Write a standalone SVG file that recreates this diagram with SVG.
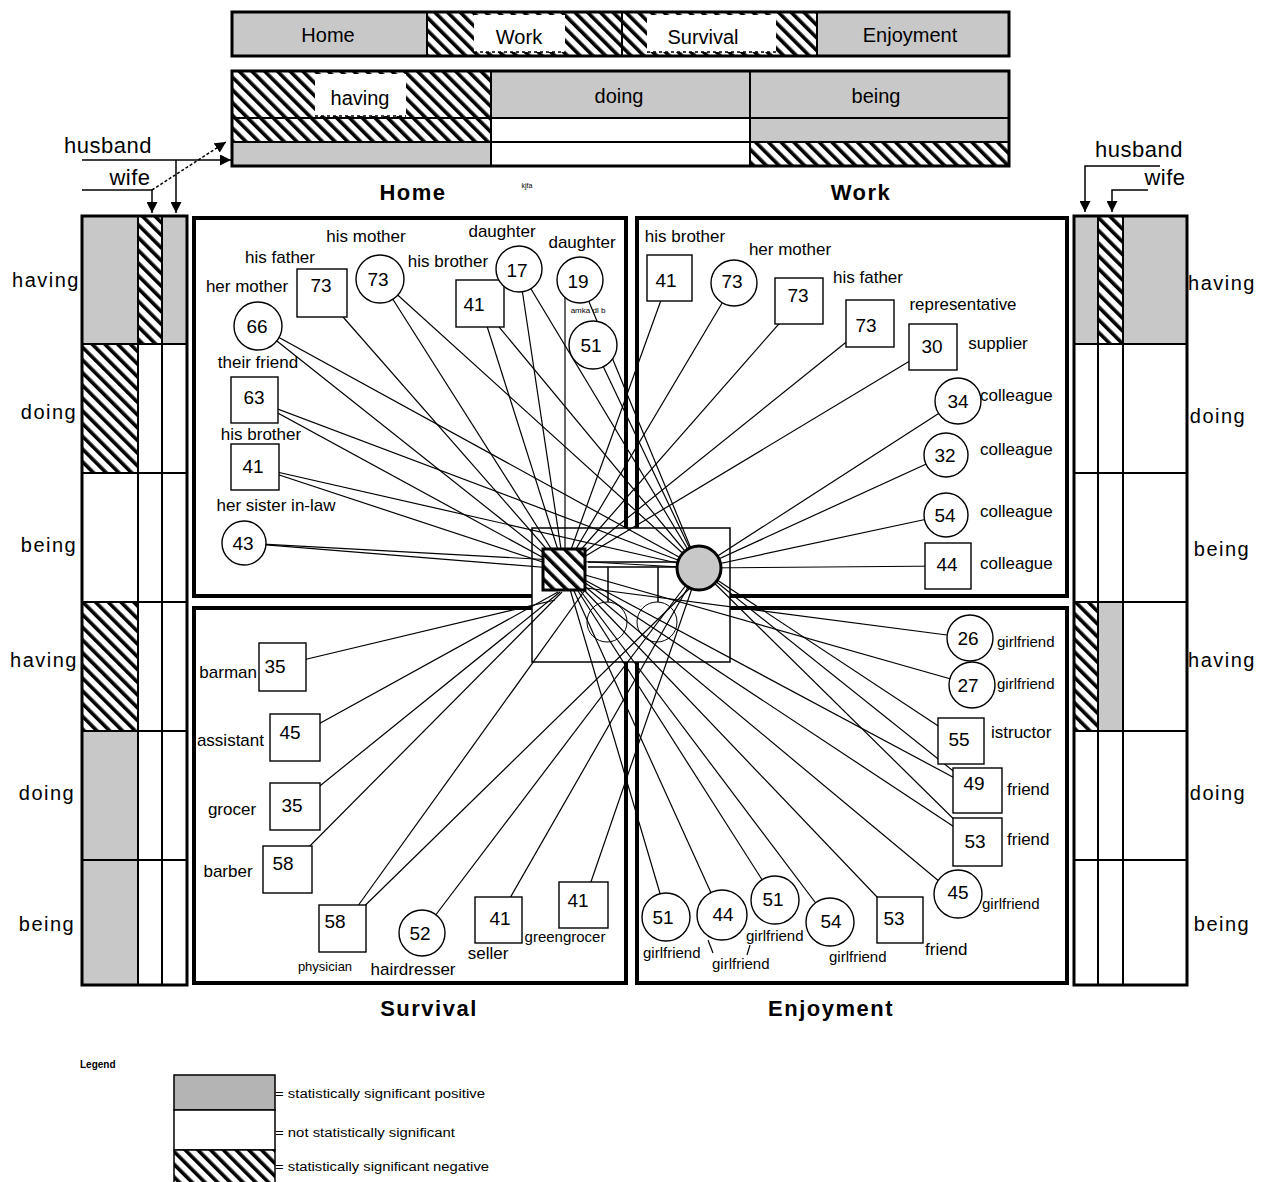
<svg xmlns="http://www.w3.org/2000/svg" width="1271" height="1182" viewBox="0 0 1271 1182">
<style>
text{font-family:"Liberation Sans",Arial,sans-serif;fill:#000}
.l{font-size:17px;text-anchor:middle}
.ls{font-size:17px;text-anchor:start}
.le{font-size:17px;text-anchor:end}
.g{font-size:15px;text-anchor:start}
.n{font-size:19px;text-anchor:middle}
.tb{font-size:20px;text-anchor:middle}
.side{font-size:20px;text-anchor:middle;letter-spacing:1.5px}
.hd{font-size:22px;font-weight:bold;text-anchor:middle;letter-spacing:1.5px}
.hw{font-size:22px;text-anchor:middle;letter-spacing:0.5px}
.leg{font-size:12px;text-anchor:start}
.node{fill:#fff;stroke:#000;stroke-width:1.4}
.gray{fill:#c8c8c8}
.hat{fill:url(#hatch)}
.wh{fill:#fff}
.cell{stroke:#000;stroke-width:2}
.out{fill:none;stroke:#000;stroke-width:3}
.quad{fill:#fff;stroke:#000;stroke-width:4}
#connectors line{stroke:#000;stroke-width:1.2}
.ar{stroke:#000;stroke-width:1.5;fill:none}
</style>
<defs>
<pattern id="hatch" patternUnits="userSpaceOnUse" width="9" height="9" patternTransform="rotate(-45)">
<rect width="9" height="9" fill="#fff"/>
<rect width="3.6" height="9" fill="#000"/>
</pattern>
<marker id="arr" viewBox="0 0 10 10" refX="10" refY="5" markerWidth="11" markerHeight="11" orient="auto" markerUnits="userSpaceOnUse">
<path d="M0,0 L10,5 L0,10 z" fill="#000"/>
</marker>
</defs>
<rect width="1271" height="1182" fill="#fff"/>

<!-- top bar -->
<g id="top-bar">
<rect class="gray cell" x="232" y="12" width="195" height="44"/>
<rect class="hat cell" x="427" y="12" width="195" height="44"/>
<rect class="hat cell" x="622" y="12" width="195" height="44"/>
<rect class="gray cell" x="817" y="12" width="192" height="44"/>
<rect class="wh" x="474" y="15" width="91" height="37"/>
<line x1="474" y1="52" x2="565" y2="52" stroke="#000" stroke-width="1.5" stroke-dasharray="3,3"/>
<rect class="wh" x="647" y="15" width="129" height="37"/>
<line x1="647" y1="52" x2="776" y2="52" stroke="#000" stroke-width="1.5" stroke-dasharray="3,3"/>
<rect class="out" x="232" y="12" width="777" height="44"/>
<text class="tb" x="328" y="42">Home</text>
<text class="tb" x="519" y="44">Work</text>
<text class="tb" x="703" y="44">Survival</text>
<text class="tb" x="910" y="42">Enjoyment</text>
</g>

<!-- second table -->
<g id="hdb-table">
<rect class="hat cell" x="232" y="71" width="259" height="47"/>
<rect class="wh" x="315" y="74" width="91" height="42"/>
<line x1="315" y1="116" x2="406" y2="116" stroke="#000" stroke-width="1.5" stroke-dasharray="3,3"/>
<rect class="gray cell" x="491" y="71" width="259" height="47"/>
<rect class="gray cell" x="750" y="71" width="259" height="47"/>
<rect class="hat cell" x="232" y="118" width="259" height="24"/>
<rect class="wh cell" x="491" y="118" width="259" height="24"/>
<rect class="gray cell" x="750" y="118" width="259" height="24"/>
<rect class="gray cell" x="232" y="142" width="259" height="24"/>
<rect class="wh cell" x="491" y="142" width="259" height="24"/>
<rect class="hat cell" x="750" y="142" width="259" height="24"/>
<rect class="out" x="232" y="71" width="777" height="95"/>
<text class="tb" x="360" y="105">having</text>
<text class="tb" x="619" y="103">doing</text>
<text class="tb" x="876" y="103">being</text>
</g>

<!-- husband / wife keys -->
<g id="key-left">
<text class="hw" x="108" y="153">husband</text>
<text class="hw" x="130" y="185">wife</text>
<line class="ar" x1="82" y1="160" x2="231" y2="160" marker-end="url(#arr)"/>
<line class="ar" x1="82" y1="190" x2="152" y2="190"/>
<line class="ar" x1="176" y1="160" x2="176" y2="213" marker-end="url(#arr)"/>
<line class="ar" x1="152" y1="190" x2="152" y2="213" marker-end="url(#arr)"/>
<line class="ar" x1="152" y1="190" x2="226" y2="142" stroke-dasharray="3,2" marker-end="url(#arr)"/>
</g>
<g id="key-right">
<text class="hw" x="1139" y="157">husband</text>
<text class="hw" x="1165" y="185">wife</text>
<path class="ar" d="M1160,166 H1085 V212" marker-end="url(#arr)"/>
<path class="ar" d="M1148,190 H1112 V212" marker-end="url(#arr)"/>
</g>

<!-- left column -->
<g id="col-left">
<rect class="gray cell" x="82" y="216" width="56" height="128"/>
<rect class="hat cell" x="138" y="216" width="24" height="128"/>
<rect class="gray cell" x="162" y="216" width="25" height="128"/>
<rect class="hat cell" x="82" y="344" width="56" height="129"/>
<rect class="wh cell" x="138" y="344" width="24" height="129"/>
<rect class="wh cell" x="162" y="344" width="25" height="129"/>
<rect class="wh cell" x="82" y="473" width="56" height="129"/>
<rect class="wh cell" x="138" y="473" width="24" height="129"/>
<rect class="wh cell" x="162" y="473" width="25" height="129"/>
<rect class="hat cell" x="82" y="602" width="56" height="129"/>
<rect class="wh cell" x="138" y="602" width="24" height="129"/>
<rect class="wh cell" x="162" y="602" width="25" height="129"/>
<rect class="gray cell" x="82" y="731" width="56" height="129"/>
<rect class="wh cell" x="138" y="731" width="24" height="129"/>
<rect class="wh cell" x="162" y="731" width="25" height="129"/>
<rect class="gray cell" x="82" y="860" width="56" height="125"/>
<rect class="wh cell" x="138" y="860" width="24" height="125"/>
<rect class="wh cell" x="162" y="860" width="25" height="125"/>
<rect class="out" x="82" y="216" width="105" height="769"/>
<text class="side" x="46" y="287">having</text>
<text class="side" x="49" y="419">doing</text>
<text class="side" x="49" y="552">being</text>
<text class="side" x="44" y="667">having</text>
<text class="side" x="47" y="800">doing</text>
<text class="side" x="47" y="931">being</text>
</g>

<!-- right column -->
<g id="col-right">
<rect class="gray cell" x="1074" y="216" width="24" height="128"/>
<rect class="hat cell" x="1098" y="216" width="25" height="128"/>
<rect class="gray cell" x="1123" y="216" width="64" height="128"/>
<rect class="wh cell" x="1074" y="344" width="24" height="129"/>
<rect class="wh cell" x="1098" y="344" width="25" height="129"/>
<rect class="wh cell" x="1123" y="344" width="64" height="129"/>
<rect class="wh cell" x="1074" y="473" width="24" height="129"/>
<rect class="wh cell" x="1098" y="473" width="25" height="129"/>
<rect class="wh cell" x="1123" y="473" width="64" height="129"/>
<rect class="hat cell" x="1074" y="602" width="24" height="129"/>
<rect class="gray cell" x="1098" y="602" width="25" height="129"/>
<rect class="wh cell" x="1123" y="602" width="64" height="129"/>
<rect class="wh cell" x="1074" y="731" width="24" height="129"/>
<rect class="wh cell" x="1098" y="731" width="25" height="129"/>
<rect class="wh cell" x="1123" y="731" width="64" height="129"/>
<rect class="wh cell" x="1074" y="860" width="24" height="125"/>
<rect class="wh cell" x="1098" y="860" width="25" height="125"/>
<rect class="wh cell" x="1123" y="860" width="64" height="125"/>
<rect class="out" x="1074" y="216" width="113" height="769"/>
<text class="side" x="1222" y="290">having</text>
<text class="side" x="1218" y="423">doing</text>
<text class="side" x="1222" y="556">being</text>
<text class="side" x="1222" y="667">having</text>
<text class="side" x="1218" y="800">doing</text>
<text class="side" x="1222" y="931">being</text>
</g>

<!-- quadrants -->
<g id="quadrants">
<rect class="quad" x="194" y="218" width="432" height="378"/>
<rect class="quad" x="637" y="218" width="430" height="378"/>
<rect class="quad" x="194" y="608" width="432" height="375"/>
<rect class="quad" x="637" y="608" width="430" height="375"/>
<rect x="532" y="528" width="198" height="134" fill="#fff" stroke="#000" stroke-width="1.5"/>
<text class="hd" x="413" y="200">Home</text>
<text x="527" y="188" font-size="7" text-anchor="middle">kjfa</text>
<text class="hd" x="861" y="200">Work</text>
<text class="hd" x="429" y="1016">Survival</text>
<text class="hd" x="831" y="1016">Enjoyment</text>
</g>

<!-- connectors -->
<g id="connectors">
<line x1="258" y1="326" x2="564" y2="569"/>
<line x1="258" y1="326" x2="699" y2="568"/>
<line x1="322" y1="293" x2="564" y2="569"/>
<line x1="380" y1="279" x2="564" y2="569"/>
<line x1="380" y1="279" x2="699" y2="568"/>
<line x1="480" y1="304" x2="564" y2="569"/>
<line x1="480" y1="304" x2="699" y2="568"/>
<line x1="519" y1="269" x2="564" y2="569"/>
<line x1="519" y1="269" x2="699" y2="568"/>
<line x1="565" y1="290" x2="565" y2="569"/>
<line x1="580" y1="280" x2="699" y2="568"/>
<line x1="593" y1="345" x2="699" y2="568"/>
<line x1="254" y1="400" x2="564" y2="569"/>
<line x1="254" y1="400" x2="699" y2="568"/>
<line x1="255" y1="467" x2="564" y2="569"/>
<line x1="255" y1="467" x2="699" y2="568"/>
<line x1="244" y1="543" x2="564" y2="569"/>
<line x1="244" y1="543" x2="699" y2="568"/>
<line x1="669" y1="278" x2="564" y2="569"/>
<line x1="734" y1="283" x2="564" y2="569"/>
<line x1="799" y1="301" x2="564" y2="569"/>
<line x1="870" y1="323" x2="564" y2="569"/>
<line x1="933" y1="347" x2="564" y2="569"/>
<line x1="958" y1="401" x2="699" y2="568"/>
<line x1="946" y1="455" x2="699" y2="568"/>
<line x1="946" y1="515" x2="699" y2="568"/>
<line x1="948" y1="566" x2="699" y2="568"/>
<line x1="282" y1="665" x2="555" y2="600"/>
<line x1="295" y1="737" x2="558" y2="592"/>
<line x1="295" y1="806" x2="560" y2="592"/>
<line x1="287" y1="869" x2="562" y2="592"/>
<line x1="342" y1="928" x2="585" y2="590"/>
<line x1="342" y1="928" x2="690" y2="588"/>
<line x1="422" y1="933" x2="699" y2="568"/>
<line x1="498" y1="919" x2="699" y2="568"/>
<line x1="583" y1="905" x2="699" y2="568"/>
<line x1="970" y1="638" x2="586" y2="588"/>
<line x1="972" y1="685" x2="564" y2="569"/>
<line x1="961" y1="741" x2="699" y2="568"/>
<line x1="977" y1="790" x2="564" y2="569"/>
<line x1="977" y1="790" x2="699" y2="568"/>
<line x1="977" y1="842" x2="564" y2="569"/>
<line x1="977" y1="842" x2="699" y2="568"/>
<line x1="958" y1="897" x2="564" y2="569"/>
<line x1="899" y1="920" x2="564" y2="569"/>
<line x1="667" y1="917" x2="564" y2="569"/>
<line x1="722" y1="917" x2="564" y2="569"/>
<line x1="775" y1="900" x2="564" y2="569"/>
<line x1="830" y1="922" x2="564" y2="569"/>
<line x1="708" y1="940" x2="713" y2="953"/>
<line x1="750" y1="945" x2="747" y2="955"/>
</g>

<!-- center: husband and wife -->
<g id="center-link">
<line x1="588" y1="562" x2="677" y2="562" stroke="#000" stroke-width="1.5"/>
<line x1="588" y1="567" x2="677" y2="567" stroke="#000" stroke-width="1.5"/>
<line x1="608" y1="567" x2="608" y2="602" stroke="#000" stroke-width="1.5"/>
<line x1="658" y1="567" x2="658" y2="602" stroke="#000" stroke-width="1.5"/>
<circle cx="607" cy="622" r="20" fill="none" stroke="#000" stroke-width="1"/>
<circle cx="657" cy="622" r="20" fill="none" stroke="#000" stroke-width="1"/>
</g>
<g id="husband"><rect x="543" y="549" width="42" height="41" fill="url(#hatch)" stroke="#000" stroke-width="3"/></g>
<g id="wife"><circle cx="699" cy="568" r="22" fill="#c8c8c8" stroke="#000" stroke-width="3"/></g>

<!-- Home nodes -->
<g id="h-his-father"><rect class="node" x="297" y="269" width="50" height="48"/><text class="n" x="321" y="292">73</text><text class="l" x="280" y="263">his father</text></g>
<g id="h-his-mother"><circle class="node" cx="380" cy="279" r="24"/><text class="n" x="378" y="286">73</text><text class="l" x="366" y="242">his mother</text></g>
<g id="h-her-mother"><circle class="node" cx="258" cy="326" r="24"/><text class="n" x="257" y="333">66</text><text class="l" x="247" y="292">her mother</text></g>
<g id="h-his-brother"><rect class="node" x="456" y="280" width="48" height="47"/><text class="n" x="474" y="311">41</text><text class="l" x="448" y="267">his brother</text></g>
<g id="h-daughter1"><circle class="node" cx="519" cy="269" r="23"/><text class="n" x="517" y="277">17</text><text class="l" x="502" y="237">daughter</text></g>
<g id="h-daughter2"><circle class="node" cx="580" cy="280" r="23"/><text class="n" x="578" y="288">19</text><text class="l" x="582" y="248">daughter</text></g>
<g id="h-51"><circle class="node" cx="593" cy="345" r="24"/><text class="n" x="591" y="352">51</text><text x="588" y="313" font-size="8" text-anchor="middle">amka dl b</text></g>
<g id="h-their-friend"><rect class="node" x="231" y="377" width="47" height="46"/><text class="n" x="254" y="404">63</text><text class="l" x="258" y="368">their friend</text></g>
<g id="h-his-brother2"><rect class="node" x="231" y="444" width="48" height="46"/><text class="n" x="253" y="473">41</text><text class="l" x="261" y="440">his brother</text></g>
<g id="h-sister-in-law"><circle class="node" cx="244" cy="543" r="22"/><text class="n" x="243" y="550">43</text><text class="l" x="276" y="511" font-size="16">her sister in-law</text></g>

<!-- Work nodes -->
<g id="w-his-brother"><rect class="node" x="647" y="255" width="45" height="46"/><text class="n" x="666" y="287">41</text><text class="l" x="685" y="242">his brother</text></g>
<g id="w-her-mother"><circle class="node" cx="734" cy="283" r="23"/><text class="n" x="732" y="288">73</text><text class="l" x="790" y="255">her mother</text></g>
<g id="w-his-father"><rect class="node" x="775" y="278" width="48" height="46"/><text class="n" x="798" y="302">73</text><text class="l" x="868" y="283">his father</text></g>
<g id="w-73"><rect class="node" x="846" y="300" width="48" height="47"/><text class="n" x="866" y="332">73</text></g>
<g id="w-representative"><rect class="node" x="909" y="324" width="48" height="46"/><text class="n" x="932" y="353">30</text><text class="l" x="963" y="310" textLength="107" lengthAdjust="spacingAndGlyphs">representative</text><text class="l" x="998" y="349">supplier</text></g>
<g id="w-colleague34"><circle class="node" cx="958" cy="401" r="23"/><text class="n" x="958" y="408">34</text><text class="ls" x="980" y="401">colleague</text></g>
<g id="w-colleague32"><circle class="node" cx="946" cy="455" r="22"/><text class="n" x="945" y="462">32</text><text class="ls" x="980" y="455">colleague</text></g>
<g id="w-colleague54"><circle class="node" cx="946" cy="515" r="22"/><text class="n" x="945" y="522">54</text><text class="ls" x="980" y="517">colleague</text></g>
<g id="w-colleague44"><rect class="node" x="925" y="543" width="46" height="46"/><text class="n" x="947" y="571">44</text><text class="ls" x="980" y="569">colleague</text></g>

<!-- Survival nodes -->
<g id="s-barman"><rect class="node" x="259" y="643" width="47" height="48"/><text class="n" x="275" y="673">35</text><text class="le" x="257" y="678">barman</text></g>
<g id="s-assistant"><rect class="node" x="270" y="714" width="50" height="47"/><text class="n" x="290" y="739">45</text><text class="le" x="264" y="746">assistant</text></g>
<g id="s-grocer"><rect class="node" x="270" y="783" width="50" height="47"/><text class="n" x="292" y="812">35</text><text class="l" x="232" y="815">grocer</text></g>
<g id="s-barber"><rect class="node" x="263" y="846" width="49" height="47"/><text class="n" x="283" y="870">58</text><text class="l" x="228" y="877">barber</text></g>
<g id="s-physician"><rect class="node" x="319" y="905" width="47" height="47"/><text class="n" x="335" y="928">58</text><text x="325" y="971" font-size="13" text-anchor="middle">physician</text></g>
<g id="s-hairdresser"><circle class="node" cx="422" cy="933" r="23"/><text class="n" x="420" y="940">52</text><text class="l" x="413" y="975">hairdresser</text></g>
<g id="s-seller"><rect class="node" x="475" y="897" width="47" height="46"/><text class="n" x="500" y="925">41</text><text class="l" x="488" y="959">seller</text></g>
<g id="s-greengrocer"><rect class="node" x="559" y="882" width="49" height="46"/><text class="n" x="578" y="907">41</text><text x="565" y="942" font-size="15" text-anchor="middle">greengrocer</text></g>

<!-- Enjoyment nodes -->
<g id="e-gf26"><circle class="node" cx="970" cy="638" r="23"/><text class="n" x="968" y="645">26</text><text class="g" x="997" y="647">girlfriend</text></g>
<g id="e-gf27"><circle class="node" cx="972" cy="685" r="23"/><text class="n" x="968" y="692">27</text><text class="g" x="997" y="689">girlfriend</text></g>
<g id="e-instructor"><rect class="node" x="938" y="718" width="46" height="46"/><text class="n" x="959" y="746">55</text><text class="ls" x="991" y="738">istructor</text></g>
<g id="e-friend49"><rect class="node" x="953" y="768" width="49" height="45"/><text class="n" x="974" y="790">49</text><text class="ls" x="1007" y="795">friend</text></g>
<g id="e-friend53"><rect class="node" x="953" y="818" width="49" height="48"/><text class="n" x="975" y="848">53</text><text class="ls" x="1007" y="845">friend</text></g>
<g id="e-gf45"><circle class="node" cx="958" cy="894" r="24"/><text class="n" x="958" y="899">45</text><text class="g" x="982" y="909">girlfriend</text></g>
<g id="e-friend53b"><rect class="node" x="877" y="897" width="46" height="46"/><text class="n" x="894" y="925">53</text><text class="ls" x="925" y="955">friend</text></g>
<g id="e-gf51"><circle class="node" cx="666" cy="917" r="24"/><text class="n" x="663" y="924">51</text><text class="g" x="643" y="958">girlfriend</text></g>
<g id="e-gf44"><circle class="node" cx="722" cy="915" r="25"/><text class="n" x="723" y="921">44</text><text class="g" x="712" y="969">girlfriend</text></g>
<g id="e-gf51b"><circle class="node" cx="775" cy="900" r="24"/><text class="n" x="773" y="906">51</text><text class="g" x="746" y="941">girlfriend</text></g>
<g id="e-gf54"><circle class="node" cx="830" cy="922" r="24"/><text class="n" x="831" y="928">54</text><text class="g" x="829" y="962">girlfriend</text></g>

<!-- legend -->
<g id="legend">
<text x="80" y="1068" font-size="10" font-weight="bold" text-anchor="start">Legend</text>
<rect x="174" y="1075" width="101" height="35" fill="#b4b4b4" stroke="#000" stroke-width="1.5"/>
<rect x="174" y="1110" width="101" height="40" fill="#fff" stroke="#000" stroke-width="1.5"/>
<rect x="174" y="1150" width="101" height="40" fill="url(#hatch)" stroke="#000" stroke-width="1.5"/>
<text class="leg" x="275" y="1098" textLength="210" lengthAdjust="spacingAndGlyphs">= statistically significant positive</text>
<text class="leg" x="275" y="1137" textLength="180" lengthAdjust="spacingAndGlyphs">= not statistically significant</text>
<text class="leg" x="275" y="1171" textLength="214" lengthAdjust="spacingAndGlyphs">= statistically significant negative</text>
</g>
</svg>
